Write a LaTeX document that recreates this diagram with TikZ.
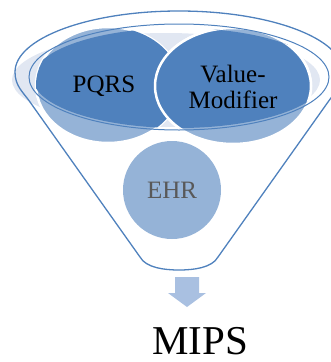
\documentclass[tikz,border=0pt]{standalone}
\usepackage{fontspec}
\setmainfont{Liberation Serif}
\usetikzlibrary{positioning}
\definecolor{funnelblue}{HTML}{4F81BD}
\definecolor{lightblue}{HTML}{95B3D7}
\definecolor{paleblue}{HTML}{E1E7F2}
\definecolor{arrowblue}{HTML}{A9C0E1}
\definecolor{textgrey}{HTML}{595959}

\begin{document}
\begin{tikzpicture}[x=1pt,y=-1pt,
  rim/.style={draw=funnelblue,line width=1.3pt},
  itemtext/.style={font=\fontsize{25}{26}\selectfont,inner sep=0pt}]
\useasboundingbox (0,0) rectangle (330,362);
% pale shade inside the rim
\fill[paleblue] (166,80) ellipse [x radius=154,y radius=47];
% funnel body
\draw[rim] (15,72) arc[start angle=180,end angle=360,x radius=164,y radius=61]
  .. controls (343,86) and (335,92) .. (328,102) -- (218,257)
  .. controls (212,268) and (193,270) .. (179,270)
  .. controls (165,270) and (146,268) .. (140,257) -- (30,102)
  .. controls (23,92) and (15,86) .. cycle;
% the two items in the rim, light where they leave the opening
\filldraw[lightblue,draw=white,line width=2.5pt] (108,85) ellipse [x radius=72,y radius=58];
\filldraw[lightblue,draw=white,line width=2.5pt] (233,86) ellipse [x radius=78,y radius=58];
\begin{scope}
\clip (179,78) ellipse [x radius=146,y radius=50];
\fill[funnelblue] (108,85) ellipse [x radius=72,y radius=58];
\fill[funnelblue] (233,86) ellipse [x radius=78,y radius=58];
\draw[white,line width=2.5pt] (233,86) ellipse [x radius=78,y radius=58];
\end{scope}
% opening of the funnel
\draw[rim,line width=1pt] (179,77) ellipse [x radius=150,y radius=53];
\node[itemtext,anchor=base] (pqrs) at (104,92) {PQRS};
\node[itemtext,align=center,anchor=north] (valmod) at (233,65) {Value-\\Modifier};
% item falling through
\node[itemtext,circle,fill=lightblue,minimum size=98pt,text=textgrey] (ehr) at (172,190) {EHR};
% outflow
\fill[arrowblue] (175,277) -- (199,277) -- (199,293) -- (206,293) -- (187,307)
  -- (168,293) -- (175,293) -- cycle;
\node[font=\fontsize{41}{41}\selectfont,anchor=base,inner sep=0pt] (mips) at (200,354) {MIPS};
\end{tikzpicture}
\end{document}
